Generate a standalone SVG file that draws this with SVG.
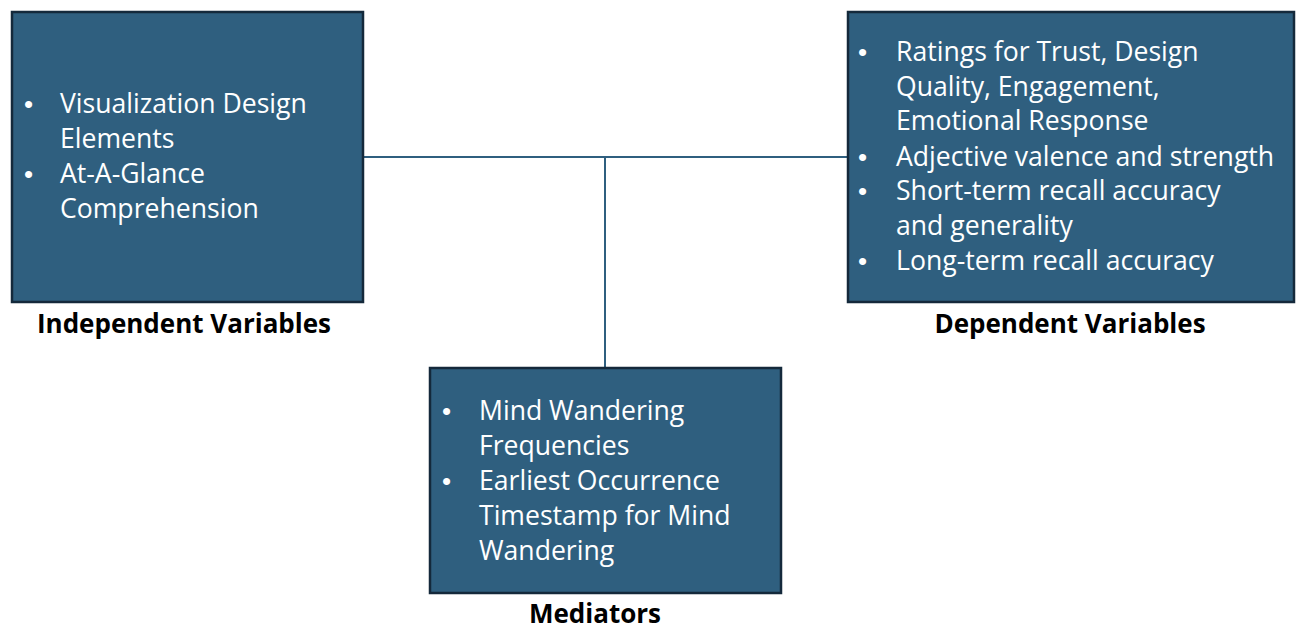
<svg xmlns="http://www.w3.org/2000/svg" width="1306" height="636" viewBox="0 0 1306 636">
<style>
.box{fill:#2f5f7f;stroke:#14293b;stroke-width:2.5}
.t{font-family:"Open Sans","Liberation Sans",Arial,sans-serif;font-size:26.6px;fill:#ffffff}
.b{font-family:"Liberation Sans",Arial,sans-serif;font-size:26px}
.lbl{font-family:"Open Sans","Liberation Sans",Arial,sans-serif;font-size:26px;font-weight:bold;fill:#000000;text-anchor:middle}
.conn{stroke:#2f5f7f;stroke-width:2;fill:none}
</style>
<rect width="1306" height="636" fill="#ffffff"/>
<g id="connectors">
<line class="conn" x1="363" y1="157" x2="847" y2="157"/>
<line class="conn" x1="605" y1="157" x2="605" y2="367"/>
</g>
<g id="independent">
<rect class="box" x="12" y="12" width="351" height="290"/>
<text class="t"><tspan class="b" x="24" y="113">•</tspan><tspan x="60" y="113">Visualization Design</tspan><tspan x="60" y="148">Elements</tspan><tspan class="b" x="24" y="183">•</tspan><tspan x="60" y="183">At-A-Glance</tspan><tspan x="60" y="218">Comprehension</tspan></text>
<text class="lbl" x="184" y="333">Independent Variables</text>
</g>
<g id="dependent">
<rect class="box" x="848" y="12" width="446" height="290"/>
<text class="t"><tspan class="b" x="858" y="61">•</tspan><tspan x="896" y="61">Ratings for Trust, Design</tspan><tspan x="896" y="96">Quality, Engagement,</tspan><tspan x="896" y="130">Emotional Response</tspan><tspan class="b" x="858" y="166">•</tspan><tspan x="896" y="166">Adjective valence and strength</tspan><tspan class="b" x="858" y="200">•</tspan><tspan x="896" y="200">Short-term recall accuracy</tspan><tspan x="896" y="235">and generality</tspan><tspan class="b" x="858" y="270">•</tspan><tspan x="896" y="270">Long-term recall accuracy</tspan></text>
<text class="lbl" x="1070" y="333">Dependent Variables</text>
</g>
<g id="mediators">
<rect class="box" x="430" y="368" width="351" height="225"/>
<text class="t"><tspan class="b" x="442" y="420">•</tspan><tspan x="479" y="420">Mind Wandering</tspan><tspan x="479" y="455">Frequencies</tspan><tspan class="b" x="442" y="490">•</tspan><tspan x="479" y="490">Earliest Occurrence</tspan><tspan x="479" y="525">Timestamp for Mind</tspan><tspan x="479" y="560">Wandering</tspan></text>
<text class="lbl" x="595" y="623">Mediators</text>
</g>
</svg>
